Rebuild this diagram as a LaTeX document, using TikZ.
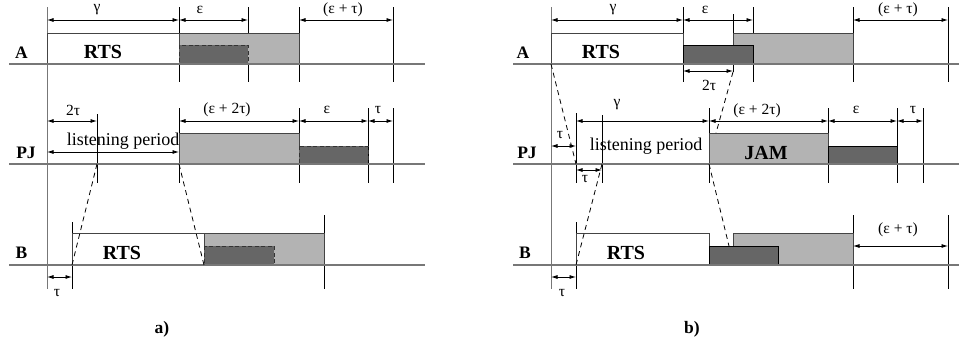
\documentclass[tikz,border=0pt]{standalone}
\usepackage{fontspec}
\setmainfont{Liberation Serif}
\usetikzlibrary{arrows.meta}
\definecolor{lightg}{HTML}{B3B3B3}
\definecolor{darkg}{HTML}{666666}
\definecolor{lineg}{HTML}{777777}
\definecolor{edgeg}{HTML}{444444}
\tikzset{
  timeline/.style={draw=lineg, line width=1.3pt},
  tick/.style={draw=black, line width=0.8pt},
  lefttick/.style={draw=lineg, line width=1pt},
  dim/.style={<->, >={Latex[length=6.5pt,width=4pt]}, line width=0.8pt},
  rtsbox/.style={fill=white, draw=edgeg, line width=0.9pt},
  lightbox/.style={fill=lightg, draw=edgeg, line width=0.9pt},
  darkbox/.style={fill=darkg, draw=black, line width=0.9pt},
  darkdash/.style={fill=darkg, draw=black!80, line width=0.9pt, dash pattern=on 4pt off 2.5pt},
  prop/.style={draw=black, line width=0.8pt, dash pattern=on 5pt off 4pt},
  lbl/.style={font=\fontsize{15.5}{15.5}\selectfont, inner sep=0pt},
  row/.style={font=\fontsize{17.5}{17.5}\selectfont\bfseries, inner sep=0pt},
  big/.style={font=\fontsize{20}{20}\selectfont\bfseries, inner sep=0pt},
  txt/.style={font=\fontsize{18}{18}\selectfont, inner sep=0pt},
}
\begin{document}
\begin{tikzpicture}[x=1pt, y=-1pt]
\useasboundingbox (0,0) rectangle (959,343);

% ================= panel a =================
% verticals (under the boxes)
\draw[lefttick] (47,7) -- (47,289);
\foreach \x in {179,248,299,393} \draw[tick] (\x,7) -- (\x,82);
\foreach \x in {179,299,368,393} \draw[tick] (\x,108) -- (\x,183);
\draw[tick] (97,114) -- (97,183);
\draw[tick] (72,222) -- (72,289);
\draw[tick] (324,215) -- (324,289);

% boxes A
\draw[rtsbox] (47,33) rectangle (179,64);
\draw[lightbox] (179,33) rectangle (299,64);
\draw[darkdash] (179,45) rectangle (248,64);
% boxes PJ
\draw[lightbox] (179,133) rectangle (299,164);
\draw[darkdash] (299,146) rectangle (368,164);
% boxes B
\draw[rtsbox] (72,233) rectangle (204,265);
\draw[lightbox] (204,233) rectangle (324,265);
\draw[darkdash] (204,246) rectangle (274,265);

% timelines
\draw[timeline] (9,64) -- (425,64);
\draw[timeline] (9,164) -- (425,164);
\draw[timeline] (9,265) -- (425,265);

% dimension arrows
\coordinate (a1) at (47,20); \coordinate (a2) at (179,20);
\coordinate (a3) at (248,20); \coordinate (a4) at (299,20); \coordinate (a5) at (393,20);
\draw[dim] (a1) -- (a2);
\draw[dim] (a2) -- (a3);
\draw[dim] (a4) -- (a5);
\coordinate (p1) at (47,121); \coordinate (p2) at (97,121); \coordinate (p3) at (179,121);
\coordinate (p4) at (299,121); \coordinate (p5) at (368,121); \coordinate (p6) at (393,121);
\draw[dim] (p1) -- (p2);
\draw[dim] (p3) -- (p4);
\draw[dim] (p4) -- (p5);
\draw[dim] (p5) -- (p6);
\coordinate (l1) at (47,152); \coordinate (l2) at (179,152);
\draw[dim] (l1) -- (l2);
\coordinate (b1) at (47,277); \coordinate (b2) at (72,277);
\draw[dim] (b1) -- (b2);

% propagation
\draw[prop] (97,164) -- (72,265);
\draw[prop] (179,164) -- (204,265);

% labels
\node[lbl] (ag) at (97,10) {γ};
\node[lbl] (ae) at (200,10) {ε};
\node[lbl] (aet) at (343,10) {(ε + τ)};
\node[lbl] (a2t) at (73,110) {2τ};
\node[lbl] (ae2t) at (227,110) {(ε + 2τ)};
\node[lbl] (ae2) at (327,110) {ε};
\node[lbl] (at2) at (378,110) {τ};
\node[lbl] (atb) at (57,293) {τ};
\node[txt] (alp) at (123,141) {listening period};
\node[big] (artsA) at (103,52) {RTS};
\node[big] (artsB) at (122,253) {RTS};
\node[row] (aA) at (21.5,53) {A};
\node[row] (aPJ) at (26,153) {PJ};
\node[row] (aB) at (21.5,253) {B};
\node[row] (acap) at (162,329) {a)};

% ================= panel b =================
% verticals (under the boxes)
\draw[lefttick] (551,7) -- (551,289);
\foreach \x in {683,753,853,948} \draw[tick] (\x,7) -- (\x,82);
\draw[tick] (733,14) -- (733,72);
\draw[tick] (576,113) -- (576,183);
\draw[tick] (602,115) -- (602,183);
\foreach \x in {709,828,897,923} \draw[tick] (\x,108) -- (\x,183);
\draw[tick] (576,222) -- (576,289);
\foreach \x in {853,948} \draw[tick] (\x,215) -- (\x,289);

% boxes A
\draw[rtsbox] (551,33) rectangle (683,64);
\draw[lightbox] (733,33) rectangle (853,64);
\draw[darkbox] (683,45) rectangle (753,64);
% boxes PJ
\draw[lightbox] (709,133) rectangle (828,164);
\draw[darkbox] (828,146) rectangle (897,164);
% boxes B
\draw[rtsbox] (576,233) rectangle (709,265);
\draw[lightbox] (733,233) rectangle (853,265);
\draw[darkbox] (709,246) rectangle (778,265);

% timelines
\draw[timeline] (513,64) -- (959,64);
\draw[timeline] (513,164) -- (959,164);
\draw[timeline] (513,265) -- (959,265);

% dimension arrows
\coordinate (c1) at (551,20); \coordinate (c2) at (683,20);
\coordinate (c3) at (753,20); \coordinate (c4) at (853,20); \coordinate (c5) at (948,20);
\draw[dim] (c1) -- (c2);
\draw[dim] (c2) -- (c3);
\draw[dim] (c4) -- (c5);
\coordinate (d1) at (683,71); \coordinate (d2) at (733,71);
\draw[dim] (d1) -- (d2);
\coordinate (e1) at (551,146); \coordinate (e2) at (576,146);
\draw[dim] (e1) -- (e2);
\coordinate (f1) at (576,121); \coordinate (f2) at (709,121); \coordinate (f3) at (828,121);
\coordinate (f4) at (897,121); \coordinate (f5) at (923,121);
\draw[dim] (f1) -- (f2);
\draw[dim] (f2) -- (f3);
\draw[dim] (f3) -- (f4);
\draw[dim] (f4) -- (f5);
\coordinate (g1) at (576,170); \coordinate (g2) at (602,170);
\draw[dim] (g1) -- (g2);
\coordinate (h1) at (551,277); \coordinate (h2) at (576,277);
\draw[dim] (h1) -- (h2);
\coordinate (k1) at (853,246); \coordinate (k2) at (948,246);
\draw[dim] (k1) -- (k2);

% propagation
\draw[prop] (551,64) -- (576,164);
\draw[prop] (602,164) -- (576,265);
\draw[prop] (733,72) -- (716,133);
\draw[prop] (709,164) -- (729,246);

% labels
\node[lbl] (bg) at (613,10) {γ};
\node[lbl] (be) at (705,10) {ε};
\node[lbl] (bet) at (898,10) {(ε + τ)};
\node[lbl] (b2t) at (709,85) {2τ};
\node[lbl] (bt1) at (560,135) {τ};
\node[lbl] (bg2) at (617,105) {γ};
\node[lbl] (be2t) at (757,111) {(ε + 2τ)};
\node[lbl] (be2) at (856,110) {ε};
\node[lbl] (bt2) at (913,110) {τ};
\node[lbl] (bt3) at (585,179) {τ};
\node[lbl] (bt4) at (562,293) {τ};
\node[lbl] (bet2) at (898,230) {(ε + τ)};
\node[txt] (blp) at (646,146) {listening period};
\node[big] (brtsA) at (601,52) {RTS};
\node[big] (bjam) at (766,153) {JAM};
\node[big] (brtsB) at (626,253) {RTS};
\node[row] (bA) at (523,53) {A};
\node[row] (bPJ) at (527,153) {PJ};
\node[row] (bB) at (525,253) {B};
\node[row] (bcap) at (692,329) {b)};
\end{tikzpicture}
\end{document}
